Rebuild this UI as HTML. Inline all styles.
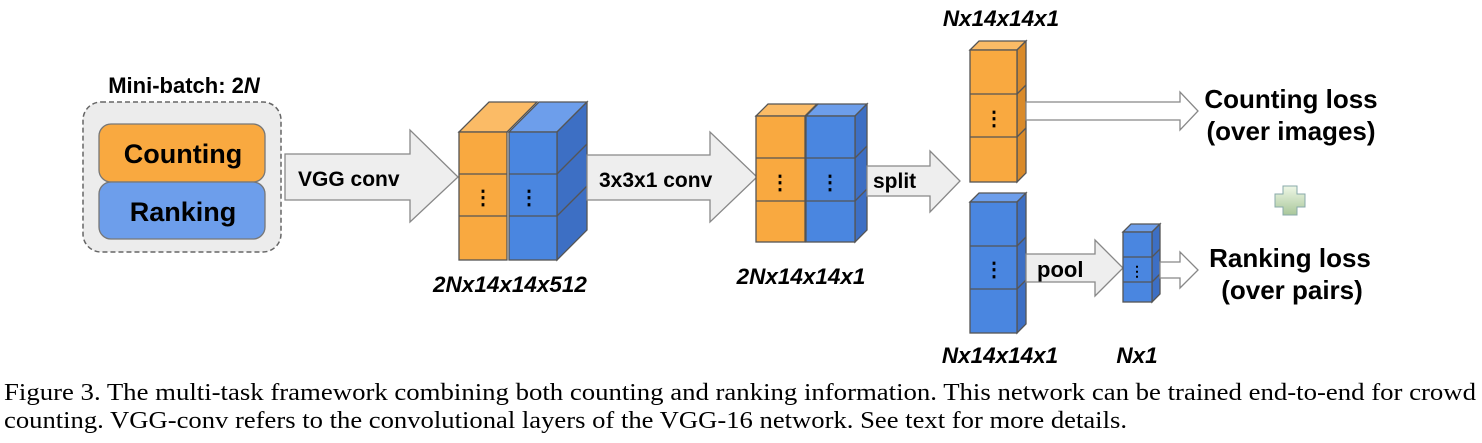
<!DOCTYPE html>
<html><head><meta charset="utf-8"><style>
html,body{margin:0;padding:0;background:#fff;width:1482px;height:443px;overflow:hidden}
svg{display:block}
.b{font-family:"Liberation Sans",sans-serif;font-weight:bold;fill:#000}
.cap{font-family:"Liberation Serif",serif;font-size:24px;fill:#000}
</style></head><body>
<svg width="1482" height="443" viewBox="0 0 1482 443" xmlns="http://www.w3.org/2000/svg">
<defs>
<linearGradient id="pg" x1="0" y1="0" x2="0" y2="1"><stop offset="0" stop-color="#eef7e6"/><stop offset="1" stop-color="#a9c79a"/></linearGradient>
</defs>
<text class="b" x="184" y="93" font-size="22" text-anchor="middle">Mini-batch: 2<tspan font-style="italic">N</tspan></text>
<rect x="83" y="102" width="198" height="150" rx="18" fill="#ececec" stroke="#666" stroke-width="1.5" stroke-dasharray="5,3"/>
<rect x="99" y="124" width="166" height="58" rx="12" fill="#f9a940" stroke="#777" stroke-width="1.3"/>
<rect x="99" y="182" width="166" height="57" rx="12" fill="#6d9eeb" stroke="#777" stroke-width="1.3"/>
<text class="b" x="183" y="163" font-size="27" text-anchor="middle">Counting</text>
<text class="b" x="183" y="221" font-size="27" text-anchor="middle">Ranking</text>
<polygon points="285,154 410,154 410,130 458,177 410,222 410,200 285,200" fill="#eeeeee" stroke="#888" stroke-width="1.3"/>
<text class="b" x="298" y="186" font-size="21">VGG conv</text>
<g stroke="#555" stroke-width="1.3">
<polygon points="459,132 489,102 537,102 507,132" fill="#fbbb66"/>
<polygon points="509,132 539,102 587,102 557,132" fill="#6d9eeb"/>
<polygon points="557,132 587,102 587,230 557,260" fill="#3d6fc4"/>
<line x1="557" y1="174" x2="587" y2="144"/><line x1="557" y1="216" x2="587" y2="186"/>
<rect x="459" y="132" width="48" height="128" fill="#f9a940"/>
<rect x="509" y="132" width="48" height="128" fill="#4a86e0"/>
<line x1="459" y1="174" x2="507" y2="174"/><line x1="459" y1="216" x2="507" y2="216"/>
<line x1="509" y1="174" x2="557" y2="174"/><line x1="509" y1="216" x2="557" y2="216"/>
</g>
<text class="b" x="483" y="204" font-size="20" text-anchor="middle">⋮</text>
<text class="b" x="529" y="204" font-size="20" text-anchor="middle">⋮</text>
<text class="b" x="510" y="292" font-size="22.5" font-style="italic" text-anchor="middle">2Nx14x14x512</text>
<polygon points="587,155 710,155 710,132 757,177 710,222 710,200 587,200" fill="#eeeeee" stroke="#888" stroke-width="1.3"/>
<text class="b" x="599" y="187" font-size="21">3x3x1 conv</text>
<g stroke="#555" stroke-width="1.3">
<polygon points="756,116 768,104 817,104 805,116" fill="#fbbb66"/>
<polygon points="806,116 818,104 867,104 855,116" fill="#6d9eeb"/>
<polygon points="855,116 867,104 867,230 855,242" fill="#3d6fc4"/>
<rect x="756" y="116" width="49" height="126" fill="#f9a940"/>
<rect x="806" y="116" width="49" height="126" fill="#4a86e0"/>
<line x1="756" y1="158" x2="805" y2="158"/><line x1="756" y1="201" x2="805" y2="201"/>
<line x1="806" y1="158" x2="855" y2="158"/><line x1="806" y1="201" x2="855" y2="201"/>
<line x1="855" y1="158" x2="867" y2="146"/><line x1="855" y1="201" x2="867" y2="189"/>
</g>
<text class="b" x="780" y="189" font-size="20" text-anchor="middle">⋮</text>
<text class="b" x="830" y="189" font-size="20" text-anchor="middle">⋮</text>
<text class="b" x="801" y="284" font-size="22.5" font-style="italic" text-anchor="middle">2Nx14x14x1</text>
<polygon points="867,166 930,166 930,151 960,181 930,212 930,196 867,196" fill="#eeeeee" stroke="#888" stroke-width="1.3"/>
<text class="b" x="873" y="188" font-size="21">split</text>
<text class="b" x="1001" y="26" font-size="22.5" font-style="italic" text-anchor="middle">Nx14x14x1</text>
<g stroke="#555" stroke-width="1.3">
<polygon points="970,50 979,41 1026,41 1017,50" fill="#fbbb66"/>
<polygon points="1017,50 1026,41 1026,173 1017,182" fill="#d98a2a"/>
<rect x="970" y="50" width="47" height="132" fill="#f9a940"/>
<line x1="970" y1="94" x2="1017" y2="94"/><line x1="970" y1="137" x2="1017" y2="137"/>
<line x1="1017" y1="94" x2="1026" y2="85"/><line x1="1017" y1="137" x2="1026" y2="128"/>
</g>
<text class="b" x="994" y="125" font-size="20" text-anchor="middle">⋮</text>
<polygon points="1026,102 1180,102 1180,92 1198,111 1180,130 1180,120 1026,120" fill="#fff" stroke="#888" stroke-width="1.3"/>
<text class="b" x="1291" y="108" font-size="26" text-anchor="middle">Counting loss</text>
<text class="b" x="1291" y="140" font-size="26" text-anchor="middle">(over images)</text>
<path d="M1283,186 h14 v8 h8 v13 h-8 v8 h-14 v-8 h-8 v-13 h8 z" fill="url(#pg)" stroke="#8aa" stroke-width="1"/>
<g stroke="#555" stroke-width="1.3">
<polygon points="970,202 979,193 1026,193 1017,202" fill="#6d9eeb"/>
<polygon points="1017,202 1026,193 1026,324 1017,333" fill="#3d6fc4"/>
<rect x="970" y="202" width="47" height="131" fill="#4a86e0"/>
<line x1="970" y1="246" x2="1017" y2="246"/><line x1="970" y1="289" x2="1017" y2="289"/>
<line x1="1017" y1="246" x2="1026" y2="237"/><line x1="1017" y1="289" x2="1026" y2="280"/>
</g>
<text class="b" x="994" y="276" font-size="20" text-anchor="middle">⋮</text>
<text class="b" x="1000" y="363" font-size="22.5" font-style="italic" text-anchor="middle">Nx14x14x1</text>
<polygon points="1026,254 1095,254 1095,240 1123,268 1095,296 1095,282 1026,282" fill="#eeeeee" stroke="#888" stroke-width="1.3"/>
<text class="b" x="1037" y="277" font-size="22">pool</text>
<g stroke="#555" stroke-width="1.3">
<polygon points="1123,232 1131,224 1160,224 1152,232" fill="#6d9eeb"/>
<polygon points="1152,232 1160,224 1160,294 1152,302" fill="#3d6fc4"/>
<rect x="1123" y="232" width="29" height="70" fill="#4a86e0"/>
<line x1="1123" y1="257" x2="1152" y2="257"/><line x1="1123" y1="282" x2="1152" y2="282"/>
<line x1="1152" y1="257" x2="1160" y2="249"/><line x1="1152" y1="282" x2="1160" y2="274"/>
</g>
<text class="b" x="1137" y="276" font-size="14" text-anchor="middle">⋮</text>
<text class="b" x="1137" y="363" font-size="22.5" font-style="italic" text-anchor="middle">Nx1</text>
<polygon points="1160,262 1180,262 1180,252 1198,270 1180,288 1180,278 1160,278" fill="#fff" stroke="#888" stroke-width="1.3"/>
<text class="b" x="1290" y="267" font-size="26" text-anchor="middle">Ranking loss</text>
<text class="b" x="1292" y="299" font-size="26" text-anchor="middle">(over pairs)</text>
<text class="cap" x="4" y="400" textLength="1472" lengthAdjust="spacingAndGlyphs">Figure 3. The multi-task framework combining both counting and ranking information. This network can be trained end-to-end for crowd</text>
<text class="cap" x="4" y="428" textLength="1123" lengthAdjust="spacingAndGlyphs">counting. VGG-conv refers to the convolutional layers of the VGG-16 network. See text for more details.</text>
</svg>
</body></html>
